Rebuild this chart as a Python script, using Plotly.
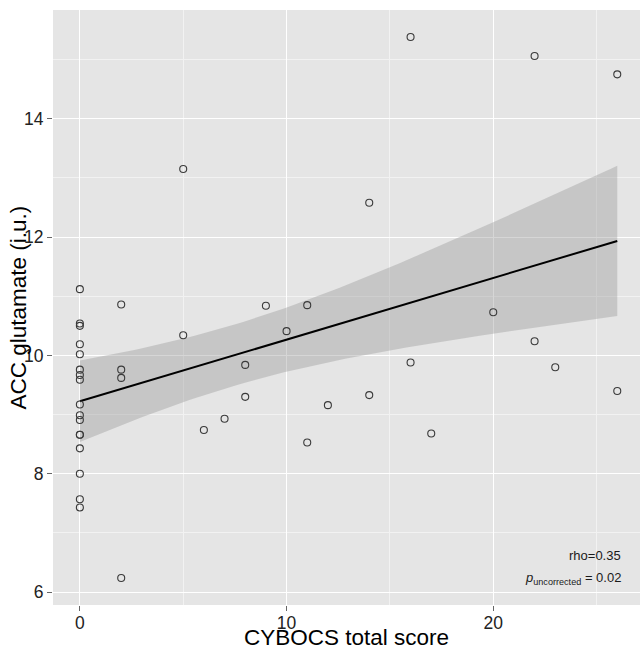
import numpy as np
import plotly.graph_objects as go

# CYBOCS total score (x) and ACC glutamate (y)
cybocs = [0]*17 + [2]*4 + [5, 5, 6, 7, 8, 8, 9, 10, 11, 11, 12, 14, 14, 16, 16, 17, 20, 22, 22, 23, 26, 26]
glutamate = [11.12, 10.54, 10.50, 10.19, 10.02, 9.76, 9.67, 9.59, 9.17, 8.99, 8.91, 8.66, 8.66, 8.43, 8.00, 7.57, 7.43,
             10.86, 9.76, 9.62, 6.24,
             13.15, 10.34, 8.74, 8.93, 9.84, 9.30, 10.84, 10.41, 10.85, 8.53, 9.16, 12.58, 9.33, 15.38, 9.88, 8.68,
             10.73, 15.06, 10.24, 9.80, 14.75, 9.40]
x_ticks = [0, 10, 20]
y_ticks = [6, 8, 10, 12, 14]
rho_text = "rho=0.35"
p_text = "<i>p</i><sub>uncorrected</sub> = 0.02"

x = np.array(cybocs, float)
y = np.array(glutamate, float)
n = len(x)

# linear model with 95% confidence band (as geom_smooth(method="lm"))
b1, b0 = np.polyfit(x, y, 1)
resid = y - (b0 + b1 * x)
s = np.sqrt(np.sum(resid**2) / (n - 2))
xm = x.mean()
sxx = np.sum((x - xm)**2)
t_crit = 2.0195  # t(0.975, df=41)
xs = np.linspace(x.min(), x.max(), 80)
ys = b0 + b1 * xs
se = s * np.sqrt(1.0 / n + (xs - xm)**2 / sxx)
upper = ys + t_crit * se
lower = ys - t_crit * se

# ggplot-like expansion of y range
yr = y.max() - y.min()
y_range = [y.min() - 0.05 * yr, y.max() + 0.05 * yr]
x_range = [-1.3, 27.1]

fig = go.Figure()
fig.add_trace(go.Scatter(
    x=np.concatenate([xs, xs[::-1]]), y=np.concatenate([upper, lower[::-1]]),
    fill="toself", fillcolor="rgba(153,153,153,0.4)", line=dict(width=0),
    mode="lines", hoverinfo="skip", showlegend=False))
fig.add_trace(go.Scatter(x=xs, y=ys, mode="lines",
                         line=dict(color="black", width=2), showlegend=False))
fig.add_trace(go.Scatter(x=x, y=y, mode="markers",
                         marker=dict(symbol="circle-open", size=7, color="#3a3a3a",
                                     line=dict(width=1.1, color="#3a3a3a")),
                         showlegend=False))

axis_common = dict(
    showgrid=True, gridcolor="white", gridwidth=1.2, zeroline=False,
    ticks="outside", ticklen=5, tickwidth=1, tickcolor="#666666",
    tickfont=dict(family="Liberation Sans", size=17.5, color="#222222"),
    showline=False,
)
fig.update_layout(
    width=640, height=649,
    margin=dict(l=53, r=0, t=10, b=44),
    paper_bgcolor="white", plot_bgcolor="#E5E5E5",
    font=dict(family="Liberation Sans"),
    xaxis=dict(range=x_range, tickvals=x_ticks, ticktext=[str(v) for v in x_ticks],
               minor=dict(showgrid=True, gridcolor="#F2F2F2", gridwidth=0.6, dtick=5, tick0=0, ticks=""),
               ticklabelstandoff=-3,
               **axis_common),
    yaxis=dict(range=y_range, tickvals=y_ticks, ticktext=[str(v) for v in y_ticks],
               minor=dict(showgrid=True, gridcolor="#F2F2F2", gridwidth=0.6, dtick=1, tick0=0, ticks=""),
               **axis_common),
    annotations=[
        dict(text="CYBOCS total score", xref="paper", yref="paper", x=0.5, y=-0.054,
             xanchor="center", yanchor="middle", showarrow=False,
             font=dict(family="Liberation Sans", size=22.5, color="black")),
        dict(text="ACC glutamate (i.u.)", xref="paper", yref="paper", x=-0.058, y=0.5,
             xanchor="center", yanchor="middle", textangle=-90, showarrow=False,
             font=dict(family="Liberation Sans", size=22.5, color="black")),
        dict(text=rho_text, xref="paper", yref="paper", x=0.971, y=0.084,
             xanchor="right", yanchor="middle", showarrow=False,
             font=dict(family="Liberation Sans", size=13, color="#1a1a1a")),
        dict(text=p_text, xref="paper", yref="paper", x=0.971, y=0.045,
             xanchor="right", yanchor="middle", showarrow=False,
             font=dict(family="Liberation Sans", size=13, color="#1a1a1a")),
    ],
)
fig.write_html("out.html", config={"displayModeBar": False},
               post_script="document.body.style.margin='0';document.body.style.overflow='hidden';")
